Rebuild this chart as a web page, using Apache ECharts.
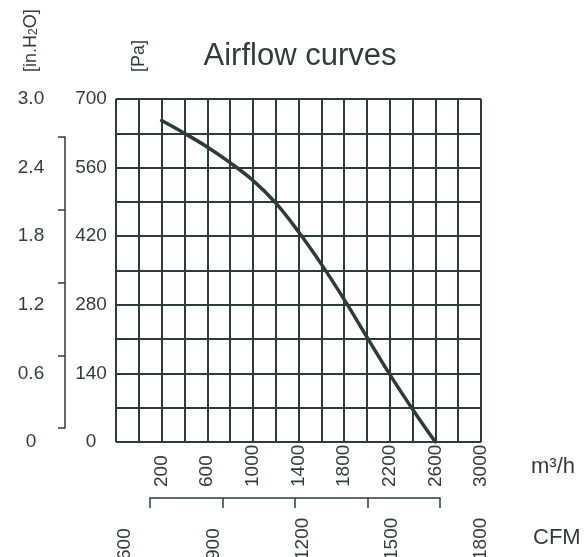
<!DOCTYPE html>
<html>
<head>
<meta charset="utf-8">
<script src="https://cdn.jsdelivr.net/npm/echarts@6/dist/echarts.min.js"></script>
<style>
  html, body { margin: 0; padding: 0; background: #fff; }
  #chart { width: 588px; height: 557px; }
</style>
</head>
<body>
<div id="chart"></div>
<script>
// curve, at each vertical grid line
const flowM3h = [200, 400, 600, 800, 1000, 1200, 1400, 1600, 1800, 2000, 2200, 2400, 2600];
const pressurePa = [656, 630, 602, 570, 534, 488, 429, 363, 291, 214, 138, 67, 0];

// tick labels
const m3hLabels = [200, 600, 1000, 1400, 1800, 2200, 2600, 3000];
const paLabels = [0, 140, 280, 420, 560, 700];
const inH2OLabels = ['0', '0.6', '1.2', '1.8', '2.4', '3.0'];
const cfmLabels = [600, 900, 1200, 1500, 1800];

const ink = '#2d3b3b';
const textInk = '#333c3c';
const font = "'Liberation Sans', Arial, sans-serif";

const chart = echarts.init(document.getElementById('chart'));

const hiddenAxis = (gridIndex) => ({
    gridIndex: gridIndex, type: 'value', show: false, min: 0, max: 1
});

const option = {
    backgroundColor: '#fff',
    animation: false,
    title: {
        text: 'Airflow curves',
        left: 295,
        top: 36,
        textAlign: 'center',
        textStyle: { fontFamily: font, fontSize: 31, fontWeight: 'normal', color: textInk }
    },
    grid: [
        { left: 116, top: 99, width: 365, height: 343, outerBoundsMode: 'none' },
        // left bracket
        { left: 65, top: 137, width: 1, height: 291, outerBoundsMode: 'none' },
        // bottom bracket
        { left: 150, top: 497, width: 290, height: 1, outerBoundsMode: 'none' },
        // CFM scale
        { left: 125, top: 537, width: 356, height: 1, outerBoundsMode: 'none' }
    ],
    xAxis: [
        {
            gridIndex: 0,
            type: 'value',
            min: -200,
            max: 3000,
            interval: 200,
            axisLine: { show: false },
            axisTick: { show: false },
            splitLine: { show: true, lineStyle: { color: ink, width: 2 } },
            axisLabel: {
                rotate: 90,
                align: 'left',
                verticalAlign: 'middle',
                margin: 45,
                fontFamily: font,
                fontSize: 19,
                color: textInk,
                formatter: v => m3hLabels.includes(v) ? String(v) : ''
            },
            name: '\nm³/h',
            nameLocation: 'end',
            nameGap: 50,
            nameTextStyle: { fontFamily: font, fontSize: 22, lineHeight: 50, color: textInk }
        },
        hiddenAxis(1),
        {
            gridIndex: 2,
            type: 'value',
            min: 0,
            max: 4,
            interval: 1,
            position: 'bottom',
            axisLine: { show: true, lineStyle: { color: ink, width: 1.5 } },
            axisTick: { show: true, length: 10, lineStyle: { color: ink, width: 1.5 } },
            axisLabel: { show: false },
            splitLine: { show: false }
        },
        {
            gridIndex: 3,
            type: 'value',
            min: 600,
            max: 1800,
            interval: 300,
            axisLine: { show: false },
            axisTick: { show: false },
            splitLine: { show: false },
            axisLabel: {
                rotate: 90,
                align: 'left',
                verticalAlign: 'middle',
                margin: 22,
                fontFamily: font,
                fontSize: 19,
                color: textInk,
                formatter: v => cfmLabels.includes(v) ? String(v) : ''
            },
            name: 'CFM',
            nameLocation: 'end',
            nameGap: 52,
            nameTextStyle: { fontFamily: font, fontSize: 22, color: textInk }
        }
    ],
    yAxis: [
        {
            gridIndex: 0,
            type: 'value',
            min: 0,
            max: 700,
            interval: 70,
            position: 'left',
            offset: 25,
            axisLine: { show: false },
            axisTick: { show: false },
            splitLine: { show: true, lineStyle: { color: ink, width: 2 } },
            axisLabel: {
                align: 'center',
                margin: 0,
                fontFamily: font,
                fontSize: 19,
                color: textInk,
                formatter: v => paLabels.includes(v) ? String(v) : ''
            },
            name: '[Pa]',
            nameLocation: 'end',
            nameRotate: 90,
            nameGap: 27,
            nameTextStyle: { fontFamily: font, fontSize: 18, color: textInk }
        },
        {
            gridIndex: 0,
            type: 'value',
            min: 0,
            max: 3,
            interval: 0.6,
            position: 'left',
            offset: 85,
            axisLine: { show: false },
            axisTick: { show: false },
            splitLine: { show: false },
            axisLabel: {
                align: 'center',
                margin: 0,
                fontFamily: font,
                fontSize: 19,
                color: textInk,
                formatter: (v, i) => inH2OLabels[i]
            },
            name: '[in.H{sub|2}O]',
            nameLocation: 'end',
            nameRotate: 90,
            nameGap: 27,
            nameTextStyle: {
                fontFamily: font, fontSize: 18, color: textInk,
                rich: { sub: { fontFamily: font, fontSize: 12, color: textInk, verticalAlign: 'bottom' } }
            }
        },
        {
            gridIndex: 1,
            type: 'value',
            min: 0,
            max: 4,
            interval: 1,
            position: 'left',
            axisLine: { show: true, lineStyle: { color: ink, width: 1.5 } },
            axisTick: { show: true, length: 7, lineStyle: { color: ink, width: 1.5 } },
            axisLabel: { show: false },
            splitLine: { show: false }
        },
        hiddenAxis(2),
        hiddenAxis(3)
    ],
    series: [{
        type: 'line',
        xAxisIndex: 0,
        yAxisIndex: 0,
        smooth: 0.4,
        symbol: 'none',
        lineStyle: { color: ink, width: 3.5, cap: 'round' },
        data: flowM3h.map((q, i) => [q, pressurePa[i]])
    }]
};

chart.setOption(option);
</script>
</body>
</html>
